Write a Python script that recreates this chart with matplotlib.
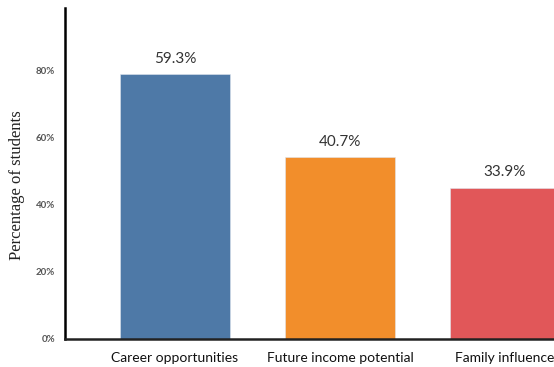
import matplotlib.pyplot as plt
from matplotlib.ticker import FixedLocator, FixedFormatter

# Share of students citing each reason
reasons = ["Career opportunities", "Future income potential", "Family influence"]
shares = [59.3, 40.7, 33.9]
colors = ["#4E79A7", "#F28E2B", "#E15759"]

# Axis gridlines sit every 15 units and are labelled on a 0-80% scale
tick_values = [0, 15, 30, 45, 60]
tick_labels = ["0%", "20%", "40%", "60%", "80%"]

fig = plt.figure(figsize=(5.54, 3.67), dpi=100)
ax = fig.add_axes([65 / 554, 28 / 367, 489 / 554, 331 / 367])

x = list(range(len(reasons)))
bars = ax.bar(x, [s * 4 / 3 for s in shares], width=0.667, color=colors,
              edgecolor="#dfe6ee", linewidth=0.4, clip_on=True)

for rect, val in zip(bars, shares):
    ax.annotate(f"{val}%", (rect.get_x() + rect.get_width() / 2, rect.get_height()),
                xytext=(0, 6), textcoords="offset points", ha="center", va="bottom",
                fontsize=11, color="#333333", family="Lato")

ax.set_xlim(-0.667, 2.297)
ax.set_ylim(0, 98.8)
ax.yaxis.set_major_locator(FixedLocator([v * 4 / 3 for v in tick_values]))
ax.yaxis.set_major_formatter(FixedFormatter(tick_labels))
ax.set_xticks(x)
ax.set_xticklabels(reasons, family="Lato", fontsize=10, color="#111111")

ax.tick_params(axis="y", length=0, pad=7, labelsize=7, labelcolor="#555555")
ax.tick_params(axis="x", length=0, pad=9)
for lbl in ax.get_yticklabels():
    lbl.set_family("Lato")
    lbl.set_fontweight("bold")

ax.set_ylabel("Percentage of students", family="Liberation Serif", fontsize=12,
              color="#222222")
ax.yaxis.set_label_coords(-0.082, 0.465)

for side in ["top", "right"]:
    ax.spines[side].set_visible(False)
ax.spines["left"].set_linewidth(1.8)
ax.spines["bottom"].set_linewidth(1.8)
ax.spines["bottom"].set_color("#222222")

fig.savefig("out.png", dpi=100)
